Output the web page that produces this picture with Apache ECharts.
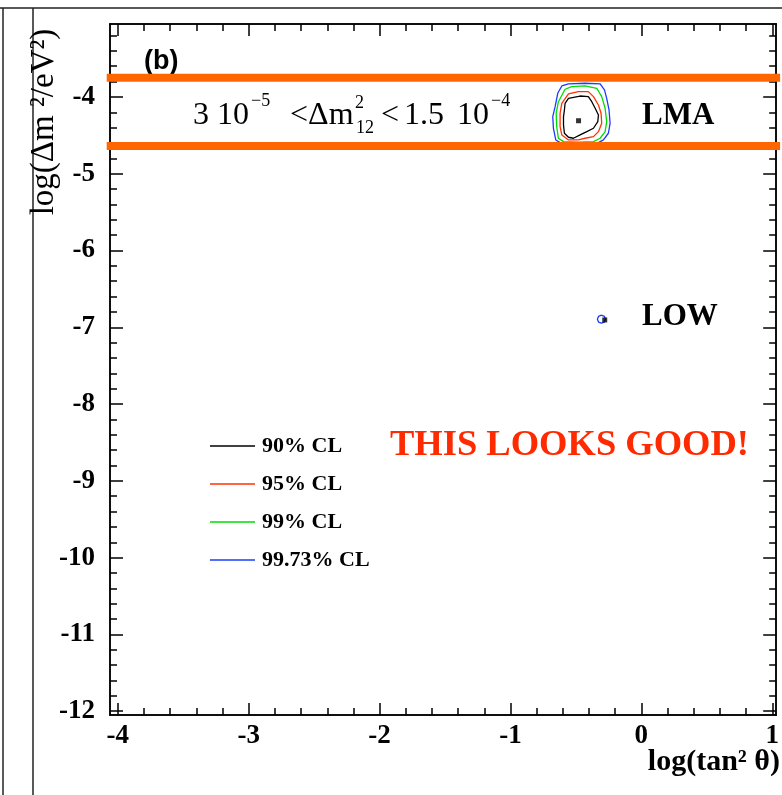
<!DOCTYPE html>
<html>
<head>
<meta charset="utf-8">
<script src="https://cdn.jsdelivr.net/npm/echarts@6/dist/echarts.min.js"></script>
<style>
html,body{margin:0;padding:0;background:#fff;}
#chart{width:782px;height:795px;}
</style>
</head>
<body>
<div id="chart"></div>
<script>
// ---- axis ranges / ticks ----
const XMIN = -4.06, XMAX = 1.03;
const YMIN = -12.05, YMAX = -3.05;
const xMajorTicks = [-4, -3, -2, -1, 0, 1];
const xMinorTicks = [-3.8,-3.6,-3.4,-3.2,-2.8,-2.6,-2.4,-2.2,-1.8,-1.6,-1.4,-1.2,-0.8,-0.6,-0.4,-0.2,0.2,0.4,0.6,0.8];
const yMajorTicks = [-12, -11, -10, -9, -8, -7, -6, -5, -4];
const yMinorTicks = [-11.8,-11.6,-11.4,-11.2,-10.8,-10.6,-10.4,-10.2,-9.8,-9.6,-9.4,-9.2,-8.8,-8.6,-8.4,-8.2,
  -7.8,-7.6,-7.4,-7.2,-6.8,-6.6,-6.4,-6.2,-5.8,-5.6,-5.4,-5.2,-4.8,-4.6,-4.4,-4.2,-3.8,-3.6,-3.4,-3.2];

// ---- band limits: log(dm2) ----
const bandUpper = -3.75;
const bandLower = -4.64;
const bandX = [-4.085, 1.06];

// ---- contours (log tan^2, log dm2) ----
const cl90_LMA = [[-0.583,-4.083],[-0.557,-4.018],[-0.468,-3.988],[-0.405,-3.996],[-0.379,-4.062],[-0.353,-4.148],
  [-0.328,-4.235],[-0.333,-4.322],[-0.366,-4.408],[-0.417,-4.452],[-0.468,-4.495],[-0.519,-4.538],[-0.557,-4.525],
  [-0.588,-4.473],[-0.595,-4.365],[-0.595,-4.257],[-0.588,-4.170],[-0.583,-4.083]];
const cl95_LMA = [[-0.608,-4.083],[-0.557,-3.961],[-0.481,-3.931],[-0.405,-3.931],[-0.366,-3.996],[-0.328,-4.105],
  [-0.308,-4.213],[-0.303,-4.343],[-0.328,-4.452],[-0.366,-4.517],[-0.430,-4.538],[-0.481,-4.560],[-0.557,-4.560],
  [-0.608,-4.495],[-0.621,-4.387],[-0.621,-4.213],[-0.608,-4.083]];
const cl99_LMA = [[-0.634,-4.062],[-0.583,-3.900],[-0.532,-3.866],[-0.430,-3.857],[-0.341,-3.887],[-0.303,-3.996],
  [-0.277,-4.148],[-0.265,-4.322],[-0.277,-4.452],[-0.315,-4.538],[-0.366,-4.582],[-0.481,-4.590],[-0.595,-4.582],
  [-0.634,-4.538],[-0.647,-4.387],[-0.651,-4.213],[-0.634,-4.062]];
const cl9973_LMA = [[-0.659,-4.127],[-0.639,-3.952],[-0.608,-3.857],[-0.557,-3.831],[-0.430,-3.822],[-0.315,-3.831],
  [-0.282,-3.909],[-0.265,-4.018],[-0.247,-4.170],[-0.239,-4.343],[-0.252,-4.473],[-0.290,-4.560],[-0.328,-4.595],
  [-0.481,-4.603],[-0.621,-4.595],[-0.654,-4.560],[-0.672,-4.408],[-0.677,-4.257],[-0.659,-4.127]];
const cl9973_LOW = [[-0.305,-6.843],[-0.283,-6.858],[-0.274,-6.895],[-0.283,-6.932],[-0.305,-6.947],[-0.327,-6.932],
  [-0.336,-6.895],[-0.327,-6.858],[-0.305,-6.843]];
const bestFit = [[-0.48,-4.31],[-0.280,-6.905]];

const clNames = ['90% CL', '95% CL', '99% CL', '99.73% CL'];
const clColors = ['#000000', '#ff3300', '#00dd00', '#1a3cff'];

const SERIF = '"Liberation Serif","DejaVu Serif",serif';

function xAxisDef(pos, ticks, len, labels) {
  return {
    type: 'value', position: pos, min: XMIN, max: XMAX,
    axisLine: { show: true, onZero: false, lineStyle: { color: '#000', width: 1.5 } },
    axisTick: { show: true, inside: true, length: len, customValues: ticks, lineStyle: { color: '#000', width: 1.5 } },
    axisLabel: labels ? { show: true, customValues: ticks, margin: 8, color: '#000',
      fontFamily: SERIF, fontWeight: 'bold', fontSize: 27 } : { show: false },
    splitLine: { show: false }
  };
}
function yAxisDef(pos, ticks, len, labels) {
  return {
    type: 'value', position: pos, min: YMIN, max: YMAX,
    axisLine: { show: true, onZero: false, lineStyle: { color: '#000', width: 1.5 } },
    axisTick: { show: true, inside: true, length: len, customValues: ticks, lineStyle: { color: '#000', width: 1.5 } },
    axisLabel: labels ? { show: true, customValues: ticks, margin: 15, color: '#000',
      fontFamily: SERIF, fontWeight: 'bold', fontSize: 27 } : { show: false },
    splitLine: { show: false }
  };
}

function contour(name, color, data) {
  return {
    type: 'line', name: name, data: data, xAxisIndex: 0, yAxisIndex: 0,
    symbol: 'none', smooth: false, silent: true, z: 5,
    lineStyle: { color: color, width: 1.3 }, itemStyle: { color: color }
  };
}

const chart = echarts.init(document.getElementById('chart'), null, { renderer: 'canvas' });

const mainFont = '32px ' + SERIF;
const supFont = '18px ' + SERIF;

const option = {
  backgroundColor: '#fff',
  animation: false,
  grid: { left: 110, right: 5, top: 24, bottom: 80 },
  xAxis: [
    xAxisDef('bottom', xMajorTicks, 12, true),
    xAxisDef('bottom', xMinorTicks, 7, false),
    xAxisDef('top', xMajorTicks, 12, false),
    xAxisDef('top', xMinorTicks, 7, false)
  ],
  yAxis: [
    yAxisDef('left', yMajorTicks, 13, true),
    yAxisDef('left', yMinorTicks, 7, false),
    yAxisDef('right', yMajorTicks, 13, false),
    yAxisDef('right', yMinorTicks, 7, false)
  ],
  legend: {
    data: clNames, orient: 'vertical', left: 205, top: 430,
    icon: 'rect', itemWidth: 45, itemHeight: 1.5, itemGap: 16, selectedMode: false,
    textStyle: { fontFamily: SERIF, fontWeight: 'bold', fontSize: 22, color: '#000', lineHeight: 22, padding: [0,0,0,2] }
  },
  series: [
    {
      type: 'line', name: 'band upper', data: [[bandX[0], bandUpper], [bandX[1], bandUpper]],
      symbol: 'none', clip: false, silent: true, z: 6,
      lineStyle: { color: '#ff6600', width: 8 }
    },
    {
      type: 'line', name: 'band lower', data: [[bandX[0], bandLower], [bandX[1], bandLower]],
      symbol: 'none', clip: false, silent: true, z: 6,
      lineStyle: { color: '#ff6600', width: 8 }
    },
    contour(clNames[0], clColors[0], cl90_LMA),
    contour(clNames[1], clColors[1], cl95_LMA),
    contour(clNames[2], clColors[2], cl99_LMA),
    contour(clNames[3], clColors[3], cl9973_LMA),
    contour(clNames[3], clColors[3], cl9973_LOW),
    {
      type: 'scatter', name: 'best fit', data: bestFit, symbol: 'rect', symbolSize: 5,
      itemStyle: { color: '#000' }, silent: true, z: 7
    }
  ],
  graphic: [
    // page frame lines
    { type: 'line', shape: { x1: 0, y1: 8, x2: 782, y2: 8 }, style: { stroke: '#222', lineWidth: 1.5 } },
    { type: 'line', shape: { x1: 3, y1: 8, x2: 3, y2: 795 }, style: { stroke: '#222', lineWidth: 1.5 } },
    { type: 'line', shape: { x1: 33, y1: 8, x2: 33, y2: 795 }, style: { stroke: '#222', lineWidth: 1.5 } },
    // axis titles
    { type: 'text', x: 44, y: 122, rotation: Math.PI / 2,
      style: { text: 'log(Δm ²/eV²)', fill: '#000', font: 'normal 33px ' + SERIF, align: 'center', verticalAlign: 'middle' } },
    { type: 'text', x: 780, y: 762,
      style: { text: 'log(tan² θ)', fill: '#000', font: 'bold 30px ' + SERIF, align: 'right', verticalAlign: 'middle' } },
    // panel label
    { type: 'text', x: 144, y: 62,
      style: { text: '(b)', fill: '#000', font: 'bold 27px "Liberation Sans",Arial,sans-serif', align: 'left', verticalAlign: 'middle' } },
    // band annotation
    { type: 'text', x: 193, y: 116, style: { text: '3 10', fill: '#000', font: mainFont, align: 'left', verticalAlign: 'middle' } },
    { type: 'text', x: 251, y: 101, style: { text: '−5', fill: '#000', font: supFont, align: 'left', verticalAlign: 'middle' } },
    { type: 'text', x: 290, y: 116, style: { text: '<Δm', fill: '#000', font: mainFont, align: 'left', verticalAlign: 'middle' } },
    { type: 'text', x: 355, y: 103, style: { text: '2', fill: '#000', font: supFont, align: 'left', verticalAlign: 'middle' } },
    { type: 'text', x: 356, y: 128, style: { text: '12', fill: '#000', font: supFont, align: 'left', verticalAlign: 'middle' } },
    { type: 'text', x: 381, y: 116, style: { text: '<', fill: '#000', font: mainFont, align: 'left', verticalAlign: 'middle' } },
    { type: 'text', x: 404, y: 116, style: { text: '1.5', fill: '#000', font: mainFont, align: 'left', verticalAlign: 'middle' } },
    { type: 'text', x: 457, y: 116, style: { text: '10', fill: '#000', font: mainFont, align: 'left', verticalAlign: 'middle' } },
    { type: 'text', x: 491, y: 101, style: { text: '−4', fill: '#000', font: supFont, align: 'left', verticalAlign: 'middle' } },
    // region labels
    { type: 'text', x: 642, y: 116, style: { text: 'LMA', fill: '#000', font: 'bold 31px ' + SERIF, align: 'left', verticalAlign: 'middle' } },
    { type: 'text', x: 642, y: 317, style: { text: 'LOW', fill: '#000', font: 'bold 31px ' + SERIF, align: 'left', verticalAlign: 'middle' } },
    { type: 'text', x: 390, y: 446, style: { text: 'THIS LOOKS GOOD!', fill: '#ff2a00', font: 'bold 36.5px ' + SERIF, align: 'left', verticalAlign: 'middle' } }
  ]
};
chart.setOption(option);
</script>
</body>
</html>
